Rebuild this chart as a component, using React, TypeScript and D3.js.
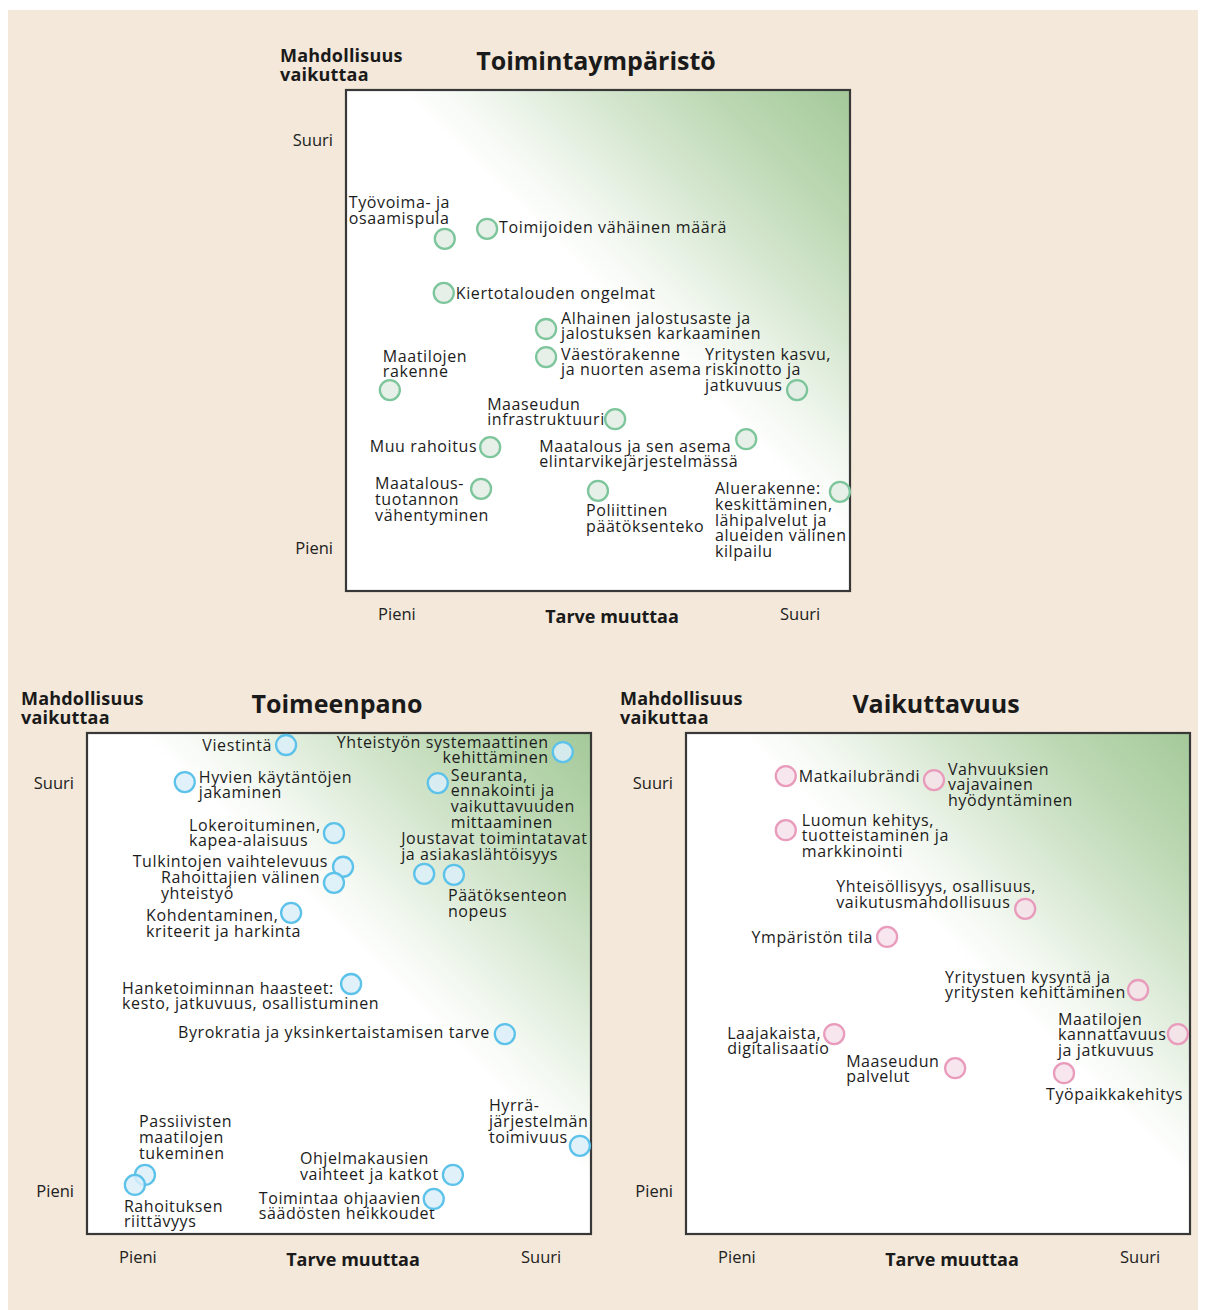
import { useEffect, useRef } from 'react'
import * as d3 from 'd3'

// Toimintaympäristö
const envLabels = [
  'Työvoima- ja\nosaamispula',
  'Toimijoiden vähäinen määrä',
  'Kiertotalouden ongelmat',
  'Alhainen jalostusaste ja\njalostuksen karkaaminen',
  'Väestörakenne\nja nuorten asema',
  'Maatilojen\nrakenne',
  'Yritysten kasvu,\nriskinotto ja\njatkuvuus',
  'Maaseudun\ninfrastruktuuri',
  'Muu rahoitus',
  'Maatalous ja sen asema\nelintarvikejärjestelmässä',
  'Maatalous-\ntuotannon\nvähentyminen',
  'Poliittinen\npäätöksenteko',
  'Aluerakenne:\nkeskittäminen,\nlähipalvelut ja\nalueiden välinen\nkilpailu',
]
const envNeed = [1.96, 2.8, 1.94, 3.97, 3.97, 0.87, 8.95, 5.34, 2.86, 7.94, 2.68, 5.0, 9.8]
const envImpact = [7.03, 7.23, 5.95, 5.23, 4.67, 4.01, 4.01, 3.43, 2.87, 3.03, 2.04, 2.0, 1.98]
const envLabelPos = [
  ['start', -96, -36], ['start', 12, -1], ['start', 12, 0], ['start', 15, -11],
  ['start', 15, -3], ['start', -7, -34], ['start', -92, -36], ['start', -128, -15],
  ['end', -13, -1], ['start', -207, 7], ['start', -106, -5], ['start', -12, 20],
  ['start', -125, -3],
]

// Toimeenpano
const implLabels = [
  'Viestintä',
  'Yhteistyön systemaattinen\nkehittäminen',
  'Hyvien käytäntöjen\njakaminen',
  'Seuranta,\nennakointi ja\nvaikuttavuuden\nmittaaminen',
  'Lokeroituminen,\nkapea-alaisuus',
  'Tulkintojen vaihtelevuus',
  'Rahoittajien välinen\nyhteistyö',
  'Kohdentaminen,\nkriteerit ja harkinta',
  'Joustavat toimintatavat\nja asiakaslähtöisyys',
  'Päätöksenteon\nnopeus',
  'Hanketoiminnan haasteet:\nkesto, jatkuvuus, osallistuminen',
  'Byrokratia ja yksinkertaistamisen tarve',
  'Hyrrä-\njärjestelmän\ntoimivuus',
  'Passiivisten\nmaatilojen\ntukeminen',
  'Rahoituksen\nriittävyys',
  'Ohjelmakausien\nvaihteet ja katkot',
  'Toimintaa ohjaavien\nsäädösten heikkoudet',
]
const implNeed = [3.95, 9.44, 1.94, 6.96, 4.9, 5.08, 4.9, 4.05, 6.69, 7.28, 5.24, 8.29, 9.78, 1.15, 0.95, 7.26, 6.88]
const implImpact = [9.76, 9.62, 9.02, 9.0, 8.0, 7.33, 7.01, 6.41, 7.19, 7.17, 4.99, 3.99, 1.76, 1.18, 0.98, 1.18, 0.7]
const implLabelPos = [
  ['end', -14, 0], ['end', -14, -10], ['start', 14, -5], ['start', 13, -8],
  ['start', -145, -8], ['end', -15, -5], ['start', -173, -5], ['start', -145, 3],
  ['start', -23, -35], ['start', -6, 21], ['start', -229, 4], ['end', -15, -2],
  ['start', -91, -40], ['start', -6, -53], ['start', -11, 21], ['start', -153, -16],
  ['start', -175, -1],
]

// Vaikuttavuus
const effLabels = [
  'Matkailubrändi',
  'Vahvuuksien\nvajavainen\nhyödyntäminen',
  'Luomun kehitys,\ntuotteistaminen ja\nmarkkinointi',
  'Yhteisöllisyys, osallisuus,\nvaikutusmahdollisuus',
  'Ympäristön tila',
  'Yritystuen kysyntä ja\nyritysten kehittäminen',
  'Laajakaista,\ndigitalisaatio',
  'Maatilojen\nkannattavuus\nja jatkuvuus',
  'Maaseudun\npalvelut',
  'Työpaikkakehitys',
]
const effNeed = [1.98, 4.92, 1.98, 6.73, 3.99, 8.97, 2.94, 9.76, 5.34, 7.5]
const effImpact = [9.14, 9.06, 8.06, 6.49, 5.93, 4.87, 3.99, 3.99, 3.31, 3.21]
const effLabelPos = [
  ['start', 13, 0], ['start', 14, -11], ['start', 16, -10], ['start', -189, -22],
  ['end', -14, 0], ['start', -193, -13], ['start', -107, -1], ['start', -120, -15],
  ['start', -109, -7], ['start', -18, 21],
]

const levelLabels = ['Pieni', 'Suuri']
const needTicks = [1, 9]
const impactTicks = [0.86, 9]

const FONT = '"Open Sans", "DejaVu Sans", sans-serif'
const W = 504
const H = 501
const LINE = 15.6

const panels = [
  { title: 'Toimintaympäristö', left: 338, top: 82, labels: envLabels, need: envNeed, impact: envImpact, pos: envLabelPos, stroke: '#7dc59b', fill: '#e3ece5' },
  { title: 'Toimeenpano', left: 79, top: 725, labels: implLabels, need: implNeed, impact: implImpact, pos: implLabelPos, stroke: '#5cc2ea', fill: '#dbeef9' },
  { title: 'Vaikuttavuus', left: 678, top: 725, labels: effLabels, need: effNeed, impact: effImpact, pos: effLabelPos, stroke: '#e99bbb', fill: '#f6e2ea' },
]

export default function App() {
  const ref = useRef<SVGSVGElement>(null)

  useEffect(() => {
    const svg = d3.select(ref.current)
    svg.selectAll('*').remove()

    // soft green wash from the top-right corner
    const grad = svg.append('defs').append('linearGradient')
      .attr('id', 'corner')
      .attr('x1', 1).attr('y1', 0).attr('x2', 0).attr('y2', 1)
    grad.append('stop').attr('offset', 0).attr('stop-color', '#a4c999')
    grad.append('stop').attr('offset', 0.14).attr('stop-color', '#bcd8b3')
    grad.append('stop').attr('offset', 0.28).attr('stop-color', '#dbead6')
    grad.append('stop').attr('offset', 0.38).attr('stop-color', '#f3f8f1')
    grad.append('stop').attr('offset', 0.45).attr('stop-color', '#ffffff')
    grad.append('stop').attr('offset', 1).attr('stop-color', '#ffffff')

    svg.append('rect')
      .attr('x', 0).attr('y', 2)
      .attr('width', 1198).attr('height', 1300)
      .attr('fill', '#f3e8d9')

    const x = d3.scaleLinear().domain([0, 10]).range([0, W])
    const y = d3.scaleLinear().domain([0, 10]).range([H, 0])

    panels.forEach(p => {
      const g = svg.append('g').attr('transform', `translate(${p.left},${p.top})`)

      g.append('rect')
        .attr('width', W).attr('height', H)
        .attr('fill', 'url(#corner)')
        .attr('stroke', '#383838')
        .attr('stroke-width', 2.2)

      // Y axis (Mahdollisuus vaikuttaa)
      g.append('g')
        .call(d3.axisLeft(y).tickValues(impactTicks).tickSize(0).tickPadding(13).tickFormat((d, i) => levelLabels[i]))
        .call(a => a.select('.domain').remove())
        .selectAll('text')
        .style('font-family', FONT)
        .style('font-size', '16.5px')
        .style('fill', '#222')

      // X axis (Tarve muuttaa)
      g.append('g')
        .attr('transform', `translate(0,${H})`)
        .call(d3.axisBottom(x).tickValues(needTicks).tickSize(0).tickPadding(17).tickFormat((d, i) => levelLabels[i]))
        .call(a => a.select('.domain').remove())
        .selectAll('text')
        .style('font-family', FONT)
        .style('font-size', '16.5px')
        .style('fill', '#222')

      const yTitle = g.append('text')
        .attr('x', -66).attr('y', -28)
        .style('font-family', FONT).style('font-size', '18px').style('font-weight', 700)
        .style('letter-spacing', '0.2px')
        .style('fill', '#1a1a1a')
      yTitle.append('tspan').attr('x', -66).text('Mahdollisuus')
      yTitle.append('tspan').attr('x', -66).attr('dy', 19).text('vaikuttaa')

      g.append('text')
        .attr('x', 250).attr('y', -20)
        .attr('text-anchor', 'middle')
        .style('font-family', FONT).style('font-size', '25px').style('font-weight', 700)
        .style('fill', '#1a1a1a')
        .text(p.title)

      g.append('text')
        .attr('x', 266).attr('y', H + 32)
        .attr('text-anchor', 'middle')
        .style('font-family', FONT).style('font-size', '18px').style('font-weight', 700)
        .style('fill', '#1a1a1a')
        .text('Tarve muuttaa')

      const pts = p.labels.map((label, i) => ({ label, need: p.need[i], impact: p.impact[i], pos: p.pos[i] }))

      // Labels
      g.selectAll('.label')
        .data(pts)
        .join('text')
        .attr('class', 'label')
        .attr('text-anchor', d => d.pos[0] as string)
        .attr('x', d => x(d.need) + (d.pos[1] as number))
        .attr('y', d => y(d.impact) + (d.pos[2] as number))
        .style('font-family', FONT)
        .style('font-size', '16px')
        .style('letter-spacing', '0.6px')
        .style('fill', '#1c1c1c')
        .each(function (d) {
          const t = d3.select(this)
          const cx = x(d.need) + (d.pos[1] as number)
          d.label.split('\n').forEach((line, k) => {
            t.append('tspan')
              .attr('x', cx)
              .attr('dy', k === 0 ? '0.35em' : LINE)
              .text(line)
          })
        })

      // Markers
      g.selectAll('.dot')
        .data(pts)
        .join('circle')
        .attr('class', 'dot')
        .attr('cx', d => x(d.need))
        .attr('cy', d => y(d.impact))
        .attr('r', 10)
        .attr('fill', p.fill)
        .attr('fill-opacity', 0.85)
        .attr('stroke', p.stroke)
        .attr('stroke-width', 2.3)
    })
  }, [])

  return <svg ref={ref} width={1198} height={1302} style={{ display: 'block' }} />
}
